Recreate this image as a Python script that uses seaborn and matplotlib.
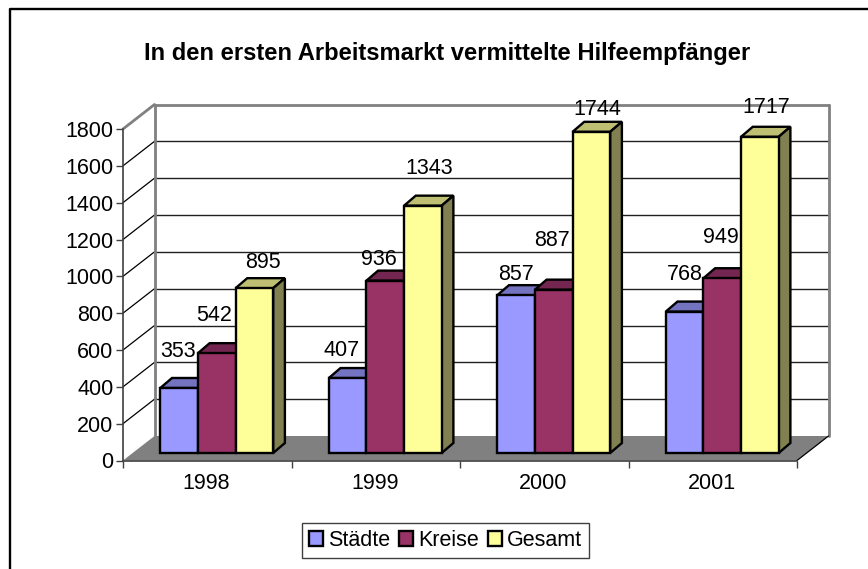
import matplotlib
matplotlib.use("Agg")
import matplotlib.pyplot as plt
import pandas as pd
import seaborn as sns
from matplotlib.lines import Line2D
from matplotlib.patches import Patch, Polygon
from matplotlib.transforms import Affine2D, IdentityTransform

# Values
years = ["1998", "1999", "2000", "2001"]
staedte = [353, 407, 857, 768]
kreise = [542, 936, 887, 949]
gesamt = [895, 1343, 1744, 1717]
y_ticks = [0, 200, 400, 600, 800, 1000, 1200, 1400, 1600, 1800]

title = "In den ersten Arbeitsmarkt vermittelte Hilfeempfänger"
series_names = ["Städte", "Kreise", "Gesamt"]
front_colors = ["#9999FF", "#993366", "#FFFF99"]
top_colors = ["#7373BF", "#732650", "#BFBF73"]
side_colors = ["#4D4D80", "#4D1933", "#808050"]

# label shift in pixels from the middle of each bar top, Excel places these oddly
label_dx = [[-1, -3, 9], [-6, -6, 6], [0, -2, 6], [0, -1, 6]]
label_dy = [[36, 38, 26], [28, 21, 37], [21, 49, 22], [37, 41, 29]]

df = pd.DataFrame({
    "year": years * 3,
    "series": sum([[name] * 4 for name in series_names], []),
    "value": staedte + kreise + gesamt,
})

sns.set_theme(style="white")
plt.rcParams["font.family"] = ["Liberation Sans", "DejaVu Sans"]

W, H = 868, 569
label_size = 15.5
edge_lw = 1.7
fig = plt.figure(figsize=(W / 100, H / 100), dpi=100)
ax = fig.add_axes([123 / W, (H - 460.5) / H, 674 / W, 331.5 / H])

palette = dict(zip(series_names, front_colors))
sns.barplot(data=df, x="year", y="value", hue="series", hue_order=series_names,
            palette=palette, width=0.67, gap=0, saturation=1, dodge=True,
            edgecolor="black", linewidth=edge_lw, legend=False, ax=ax)

ax.set_xlim(-0.5, 3.5)
ax.set_ylim(0, 1800)
ax.set_xlabel("")
ax.set_ylabel("")
ax.set_yticks(y_ticks)
ax.set_xticks([-0.5, 0.5, 1.5, 2.5, 3.5], minor=False, labels=[""] * 5)
ax.tick_params(axis="both", direction="out", length=5, width=1, color="#404040", pad=2,
               left=True, bottom=True, labelsize=label_size, labelcolor="black")
for spine in ["top", "right"]:
    ax.spines[spine].set_visible(False)
ax.spines["left"].set_color("#404040")
ax.spines["bottom"].set_color("#404040")
ax.spines["left"].set_linewidth(1.2)
ax.spines["bottom"].set_linewidth(1.2)
ax.patch.set_visible(False)

# year labels sit between the ticks
for i, year in enumerate(years):
    ax.annotate(year, (i, 0), xycoords="data", xytext=(-1, -23), textcoords="offset pixels",
                ha="center", va="center", fontsize=label_size, color="black",
                annotation_clip=False)


def px(x, y):
    return ax.transData.transform((x, y))


id_tr = IdentityTransform()
wall_dx, wall_dy = 31.5, 24.5
grey = "#808080"

# floor
p0, p1 = px(-0.5, 0), px(3.5, 0)
floor = [p0, p1, p1 + (wall_dx, wall_dy), p0 + (wall_dx, wall_dy)]
ax.add_patch(Polygon(floor, closed=True, facecolor=grey, edgecolor="none",
                     transform=id_tr, zorder=0.5, clip_on=False))

# grid on the back wall and side wall
for v in y_ticks:
    a, b = px(-0.5, v), px(3.5, v)
    back_a = a + (wall_dx, wall_dy)
    back_b = b + (wall_dx, wall_dy)
    if v > 0:
        is_top = v == y_ticks[-1]
        ax.add_line(Line2D([a[0], back_a[0]], [a[1], back_a[1]], transform=id_tr,
                           color=grey if is_top else "black", lw=2 if is_top else 0.9,
                           zorder=0.6, clip_on=False))
        ax.add_line(Line2D([back_a[0], back_b[0]], [back_a[1], back_b[1]], transform=id_tr,
                           color=grey if is_top else "#202020", lw=2 if is_top else 1,
                           zorder=0.6, clip_on=False))
a0, a1 = px(-0.5, 0), px(-0.5, 1800)
b0, b1 = px(3.5, 0), px(3.5, 1800)
for p, q in [(a0, a1), (b0, b1)]:
    ax.add_line(Line2D([p[0] + wall_dx, q[0] + wall_dx], [p[1] + wall_dy, q[1] + wall_dy],
                       transform=id_tr, color=grey, lw=2, zorder=0.6, clip_on=False))
ax.add_line(Line2D([b0[0], b0[0] + wall_dx], [b0[1], b0[1] + wall_dy], transform=id_tr,
                   color="black", lw=0.9, zorder=0.7, clip_on=False))

# bars: move the fronts onto the floor and add the top and side faces
bar_dx, bar_dy = 9.5, 7.5
depth_x, depth_y = 11.7, 10
shift = Affine2D().translate(bar_dx, bar_dy)
for s, container in enumerate(ax.containers):
    for i, bar in enumerate(container.patches):
        z = 3 + i * 3 + s
        bar.set_transform(ax.transData + shift)
        bar.set_zorder(z + 0.2)
        bar.set_clip_on(False)
        bar.set_joinstyle("miter")
        x0, x1 = bar.get_x(), bar.get_x() + bar.get_width()
        top = bar.get_height()
        br = px(x1, 0) + (bar_dx, bar_dy)
        tl = px(x0, top) + (bar_dx, bar_dy)
        tr = px(x1, top) + (bar_dx, bar_dy)
        d = (depth_x, depth_y)
        ax.add_patch(Polygon([tl, tr, tr + d, tl + d], closed=True, facecolor=top_colors[s],
                             edgecolor="black", lw=edge_lw, joinstyle="miter",
                             transform=id_tr, zorder=z, clip_on=False))
        ax.add_patch(Polygon([br, tr, tr + d, br + d], closed=True, facecolor=side_colors[s],
                             edgecolor="black", lw=edge_lw, joinstyle="miter",
                             transform=id_tr, zorder=z, clip_on=False))
        ax.annotate(str(int(top)), (tl + tr) / 2 + (label_dx[i][s], label_dy[i][s]),
                    xycoords=id_tr, ha="center", va="center", fontsize=label_size, color="black",
                    zorder=30, annotation_clip=False)

# title and outer frame (the frame runs off the right and bottom of the picture)
fig.text(447 / W, 1 - 53.5 / H, title, ha="center", va="center",
         fontsize=17.15, fontweight="bold", color="black")
frame_x = [10 / W, 10 / W, 1.01]
frame_y = [-0.01, 1 - 9.3 / H, 1 - 9.3 / H]
fig.add_artist(Line2D(frame_x, frame_y, transform=fig.transFigure, color="black", lw=1.7))

# legend
handles = [Patch(facecolor=c, edgecolor="black", linewidth=edge_lw, label=n)
           for c, n in zip(front_colors, series_names)]
leg = fig.legend(handles=handles, ncol=3, loc="center", bbox_to_anchor=(445.5 / W, 1 - 540.5 / H),
                 fontsize=label_size, frameon=True, fancybox=False, framealpha=1, edgecolor="#404040",
                 handlelength=0.65, handleheight=0.65, handletextpad=0.2, columnspacing=0.45,
                 borderpad=0.34, borderaxespad=0, labelcolor="black")
leg.get_frame().set_linewidth(1)

fig.savefig("out.png", dpi=100, facecolor="white")
